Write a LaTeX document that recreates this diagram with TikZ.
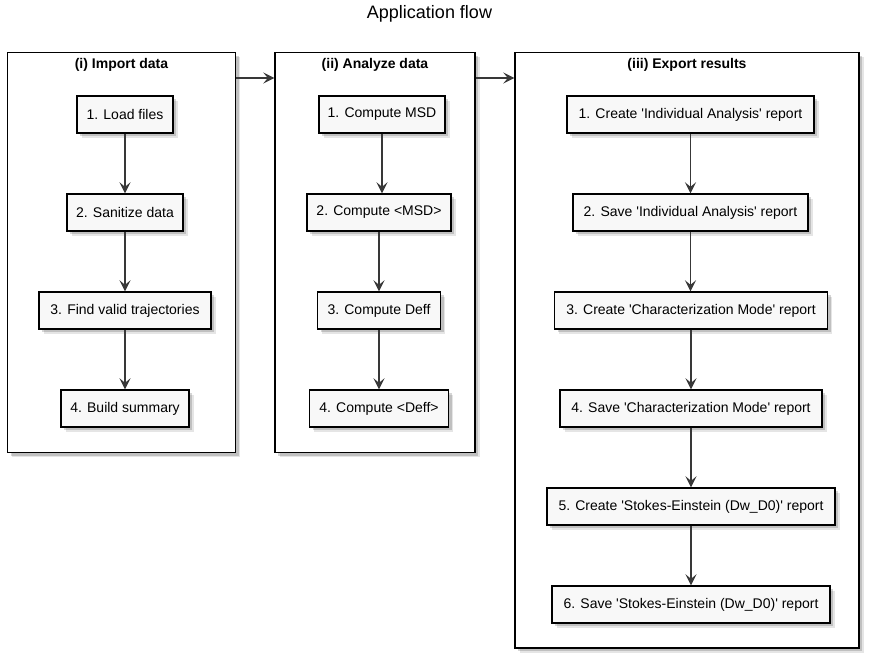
\documentclass[tikz,border=0pt]{standalone}
\usepackage{fontspec}
\setmainfont{Liberation Sans}[Ligatures=TeXOff]
\usetikzlibrary{arrows.meta,shadows}
\definecolor{nodefill}{HTML}{F8F8F8}
\definecolor{arrowc}{HTML}{383838}
\tikzset{
  shad/.style={
    drop shadow={shadow xshift=4.5pt,shadow yshift=-4.5pt,fill=black,opacity=0.10},
    drop shadow={shadow xshift=3pt,shadow yshift=-3pt,fill=black,opacity=0.16}},
  act/.style={shad, draw=black, line width=1.4pt, fill=nodefill, minimum height=37pt,
    inner sep=0pt, font=\fontsize{14}{17}\selectfont},
  grp/.style={shad, draw=black, line width=1.4pt, fill=white, inner sep=0pt},
  grptitle/.style={font=\fontsize{14}{17}\selectfont\bfseries, inner sep=0pt},
  flow/.style={draw=arrowc, line width=1.1pt, -{Stealth[length=11pt,width=11pt,inset=4.5pt]}},
}
\begin{document}
\begin{tikzpicture}[x=1pt,y=-1pt]
\useasboundingbox (0,0) rectangle (870,659);
\node[font=\fontsize{18}{21}\selectfont, inner sep=0pt] (title) at (429.5,14) {Application flow};

% groups
\node[grp, minimum width=228pt, minimum height=400pt] (g1) at (121.5,252.5) {};
\node[grp, minimum width=200pt, minimum height=400pt] (g2) at (375,252.5) {};
\node[grp, minimum width=344pt, minimum height=595.5pt] (g3) at (687,350.25) {};
\node[grptitle] (t1) at (121.5,65) {(i) Import data};
\node[grptitle] (t2) at (375,65) {(ii) Analyze data};
\node[grptitle] (t3) at (687,65) {(iii) Export results};

% group 1
\node[act, minimum width=96pt] (a1) at (125,114.5) {1. Load files};
\node[act, minimum width=116pt] (a2) at (125,212.5) {2. Sanitize data};
\node[act, minimum width=172pt] (a3) at (125,310.5) {3. Find valid trajectories};
\node[act, minimum width=128pt] (a4) at (125,408.5) {4. Build summary};

% group 2
\node[act, minimum width=126pt] (b1) at (382,114.5) {1. Compute MSD};
\node[act, minimum width=144pt] (b2) at (379,212.5) {2. Compute <MSD>};
\node[act, minimum width=123pt] (b3) at (379,310.5) {3. Compute Deff};
\node[act, minimum width=139pt] (b4) at (379,408.5) {4. Compute <Deff>};

% group 3
\node[act, minimum width=247pt] (c1) at (690.5,114.5) {1. Create 'Individual Analysis' report};
\node[act, minimum width=235pt] (c2) at (690.5,212.5) {2. Save 'Individual Analysis' report};
\node[act, minimum width=273pt] (c3) at (691,310.5) {3. Create 'Characterization Mode' report};
\node[act, minimum width=262pt] (c4) at (691,408.5) {4. Save 'Characterization Mode' report};
\node[act, minimum width=288pt] (c5) at (691,506.5) {5. Create 'Stokes-Einstein (Dw\_D0)' report};
\node[act, minimum width=278pt] (c6) at (691,604.5) {6. Save 'Stokes-Einstein (Dw\_D0)' report};

% connectors
\draw[flow] (a1.south) -- (a2.north);
\draw[flow] (a2.south) -- (a3.north);
\draw[flow] (a3.south) -- (a4.north);
\draw[flow] (b1.south) -- (b1.south |- b2.north);
\draw[flow] (b2.south) -- (b3.north);
\draw[flow] (b3.south) -- (b3.south |- b4.north);
\draw[flow] (c1.south) -- (c1.south |- c2.north);
\draw[flow] (c2.south) -- (c2.south |- c3.north);
\draw[flow] (c3.south) -- (c4.north);
\draw[flow] (c4.south) -- (c5.north);
\draw[flow] (c5.south) -- (c6.north);

\coordinate (row) at (0,78);
\draw[flow] (g1.east |- row) -- (g2.west |- row);
\draw[flow] (g2.east |- row) -- (g3.west |- row);
\end{tikzpicture}
\end{document}
